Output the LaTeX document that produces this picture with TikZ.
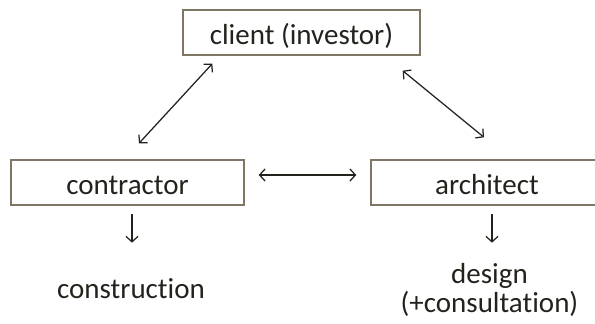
\documentclass[tikz,border=0pt]{standalone}
\usepackage{fontspec}
\setmainfont{Carlito}[Ligatures=NoCommon]
\usetikzlibrary{arrows.meta,calc}
\definecolor{inkdark}{RGB}{36,34,28}
\definecolor{boxline}{RGB}{128,118,100}
\tikzset{
  rolebox/.style={draw=boxline, line width=1.4pt, inner sep=0pt,
    minimum width=233pt, text height=34pt, text depth=11pt,
    text=inkdark, font=\fontsize{29}{29}\selectfont},
  outcome/.style={inner sep=0pt, text=inkdark, align=center,
    font=\fontsize{29}{29}\selectfont},
  link/.style={draw=inkdark, line width=1.25pt,
    {Straight Barb[length=5.5pt,width=12pt]}-{Straight Barb[length=5.5pt,width=12pt]}},
  flow/.style={draw=inkdark, line width=1.25pt,
    -{Straight Barb[length=5.5pt,width=12pt]}}
}
\begin{document}
\begin{tikzpicture}[x=1pt,y=-1pt]
  \useasboundingbox (0,0) rectangle (595,324);
  \clip (0,0) rectangle (595,324);

  % parties
  \node[rolebox, minimum width=237pt] (client) at (301.5,32.5) {client (investor)};
  \node[rolebox] (contractor) at (127.5,182.5) {contractor};
  \node[rolebox, minimum width=232pt] (architect) at (487,182.5) {architect};

  % results of each party's work (base = baseline of the last line)
  \node[outcome, anchor=base] (construction) at (131,298) {construction};
  \node[outcome, anchor=base] (design) at (489.5,312) {design\\(+consultation)};

  % relations between the parties
  \draw[link] ($(contractor.north)+(11.5,-16)$) -- ($(client.south west)+(30,8)$);
  \draw[link] ($(client.south east)+(-18,15)$) -- ($(architect.north)+(-3,-22)$);
  \draw[link] ($(contractor.east)+(14,-7.5)$) -- ($(architect.west)+(-14,-7.5)$);

  % each party leads to its output
  \draw[flow] ($(contractor.south)+(4.5,8)$) -- ($(contractor.south)+(4.5,37)$);
  \draw[flow] ($(architect.south)+(5,8)$) -- ($(architect.south)+(5,37)$);
\end{tikzpicture}
\end{document}
